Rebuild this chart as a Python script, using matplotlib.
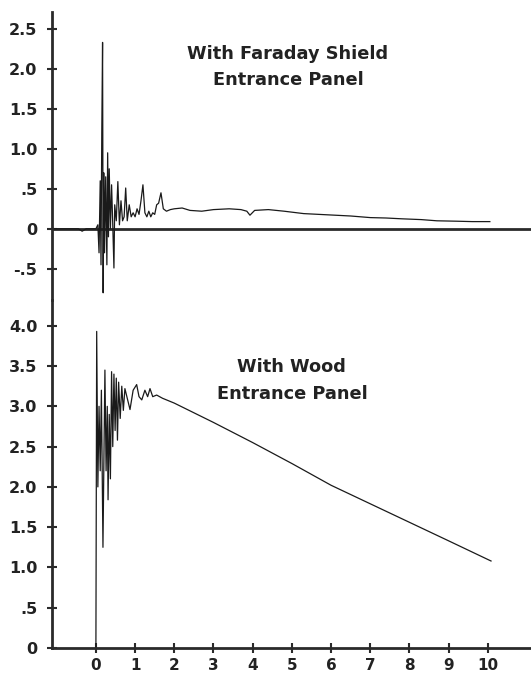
import matplotlib
matplotlib.use("Agg")
import matplotlib.pyplot as plt

# ---- data ----
t_shield = [-1.1, -0.45, -0.35, -0.25, -0.05, 0.0, 0.05, 0.08, 0.11, 0.13, 0.15, 0.17, 0.185,
            0.20, 0.22, 0.25, 0.28, 0.30, 0.32, 0.34, 0.37, 0.40, 0.43, 0.46, 0.48, 0.52,
            0.56, 0.60, 0.64, 0.68, 0.72, 0.76, 0.80, 0.85, 0.90, 0.95, 1.00, 1.05, 1.10,
            1.15, 1.20, 1.25, 1.30, 1.35, 1.40, 1.45, 1.50, 1.55, 1.60, 1.66, 1.72, 1.80,
            1.90, 2.0, 2.2, 2.4, 2.7, 3.0, 3.4, 3.7, 3.85, 3.93, 4.05, 4.4, 4.8, 5.3, 5.7,
            6.1, 6.5, 7.0, 7.4, 7.8, 8.3, 8.7, 9.2, 9.6, 10.05]
v_shield = [0.0, 0.0, -0.03, 0.0, 0.0, 0.0, 0.05, -0.3, 0.6, -0.45, 1.2, 2.33, -0.8,
            0.7, -0.3, 0.65, -0.45, 0.95, -0.1, 0.75, 0.0, 0.55, 0.05, -0.49, 0.3, 0.1,
            0.59, 0.05, 0.35, 0.1, 0.15, 0.51, 0.1, 0.3, 0.15, 0.2, 0.15, 0.25, 0.18,
            0.35, 0.55, 0.2, 0.15, 0.22, 0.15, 0.2, 0.18, 0.3, 0.32, 0.45, 0.25, 0.22,
            0.24, 0.25, 0.26, 0.23, 0.22, 0.24, 0.25, 0.24, 0.22, 0.17, 0.23, 0.24, 0.22,
            0.19, 0.18, 0.17, 0.16, 0.14, 0.135, 0.125, 0.115, 0.10, 0.095, 0.09, 0.09]

t_wood = [0.0, 0.02, 0.05, 0.08, 0.11, 0.14, 0.18, 0.21, 0.23, 0.26, 0.29, 0.31, 0.34,
          0.37, 0.40, 0.43, 0.46, 0.49, 0.52, 0.55, 0.58, 0.62, 0.66, 0.70, 0.74, 0.80,
          0.87, 0.95, 1.04, 1.10, 1.17, 1.25, 1.32, 1.38, 1.45, 1.55, 1.7, 2.0, 3.0, 4.0,
          5.0, 6.0, 7.0, 8.0, 9.0, 10.08]
v_wood = [0.0, 3.93, 2.0, 3.0, 2.2, 3.2, 1.25, 2.6, 3.45, 2.2, 3.0, 1.84, 2.9,
          2.1, 3.43, 2.5, 3.4, 2.7, 3.35, 2.58, 3.3, 2.85, 3.25, 2.95, 3.22, 3.1,
          2.96, 3.2, 3.27, 3.12, 3.08, 3.2, 3.12, 3.22, 3.12, 3.14, 3.1, 3.04, 2.80, 2.55,
          2.29, 2.02, 1.79, 1.56, 1.33, 1.08]

x_ticks = list(range(0, 11))
y_ticks_top = [2.5, 2.0, 1.5, 1.0, 0.5, 0.0, -0.5]
y_labels_top = ["2.5", "2.0", "1.5", "1.0", ".5", "0", "-.5"]
y_ticks_bot = [4.0, 3.5, 3.0, 2.5, 2.0, 1.5, 1.0, 0.5, 0.0]
y_labels_bot = ["4.0", "3.5", "3.0", "2.5", "2.0", "1.5", "1.0", ".5", "0"]
title_top = "With Faraday Shield\nEntrance Panel"
title_bot = "With Wood\nEntrance Panel"

# ---- layout ----
W, H = 531, 677
fig = plt.figure(figsize=(W / 100, H / 100), dpi=100)

def frac(x0, y_top, y_bot):
    return [x0 / W, (H - y_bot) / H, (W - x0) / W, (y_bot - y_top) / H]

ax1 = fig.add_axes(frac(52, 12, 300))
ax2 = fig.add_axes(frac(52, 300, 648))

xlim = (-1.12, 11.1)
line_col = "#1a1a1a"
axis_col = "#2a2a2a"
fnt = dict(fontsize=11.5, fontweight="bold", color="#222222")
fnt_x = dict(fontsize=11, fontweight="bold", color="#222222")

for ax in (ax1, ax2):
    ax.set_xlim(*xlim)
    for s in ("top", "right"):
        ax.spines[s].set_visible(False)
    ax.spines["left"].set_linewidth(2.0)
    ax.spines["left"].set_color(axis_col)
    ax.spines["left"].set_capstyle("projecting")
    ax.tick_params(axis="y", direction="inout", length=7, width=1.5, color=axis_col, pad=7)
    ax.tick_params(axis="x", direction="inout", length=7, width=1.5, color=axis_col, pad=4)
    ax.set_facecolor("none")

# top panel
ax1.set_ylim(-0.89, 2.71)
ax1.spines["bottom"].set_visible(False)
ax1.axhline(0, color=axis_col, lw=2.0, zorder=1)
ax1.plot(t_shield, v_shield, color=line_col, lw=0.9, zorder=2)
ax1.set_xticks([])
ax1.set_yticks(y_ticks_top)
ax1.set_yticklabels(y_labels_top, **fnt)
ax1.text(4.9, 2.02, title_top, ha="center", va="center", fontsize=12.8,
         fontweight="bold", color="#222222", linespacing=1.6)

# bottom panel
ax2.set_ylim(0, 4.32)
ax2.spines["bottom"].set_linewidth(2.0)
ax2.spines["bottom"].set_color(axis_col)
ax2.plot(t_wood, v_wood, color=line_col, lw=0.9, zorder=2)
ax2.set_xticks(x_ticks)
ax2.set_xticklabels([str(x) for x in x_ticks], **fnt_x)
ax2.set_yticks(y_ticks_bot)
ax2.set_yticklabels(y_labels_bot, **fnt)
ax2.text(5.0, 3.32, title_bot, ha="center", va="center", fontsize=12.8,
         fontweight="bold", color="#222222", linespacing=1.6)

fig.savefig("out.png", dpi=100)
